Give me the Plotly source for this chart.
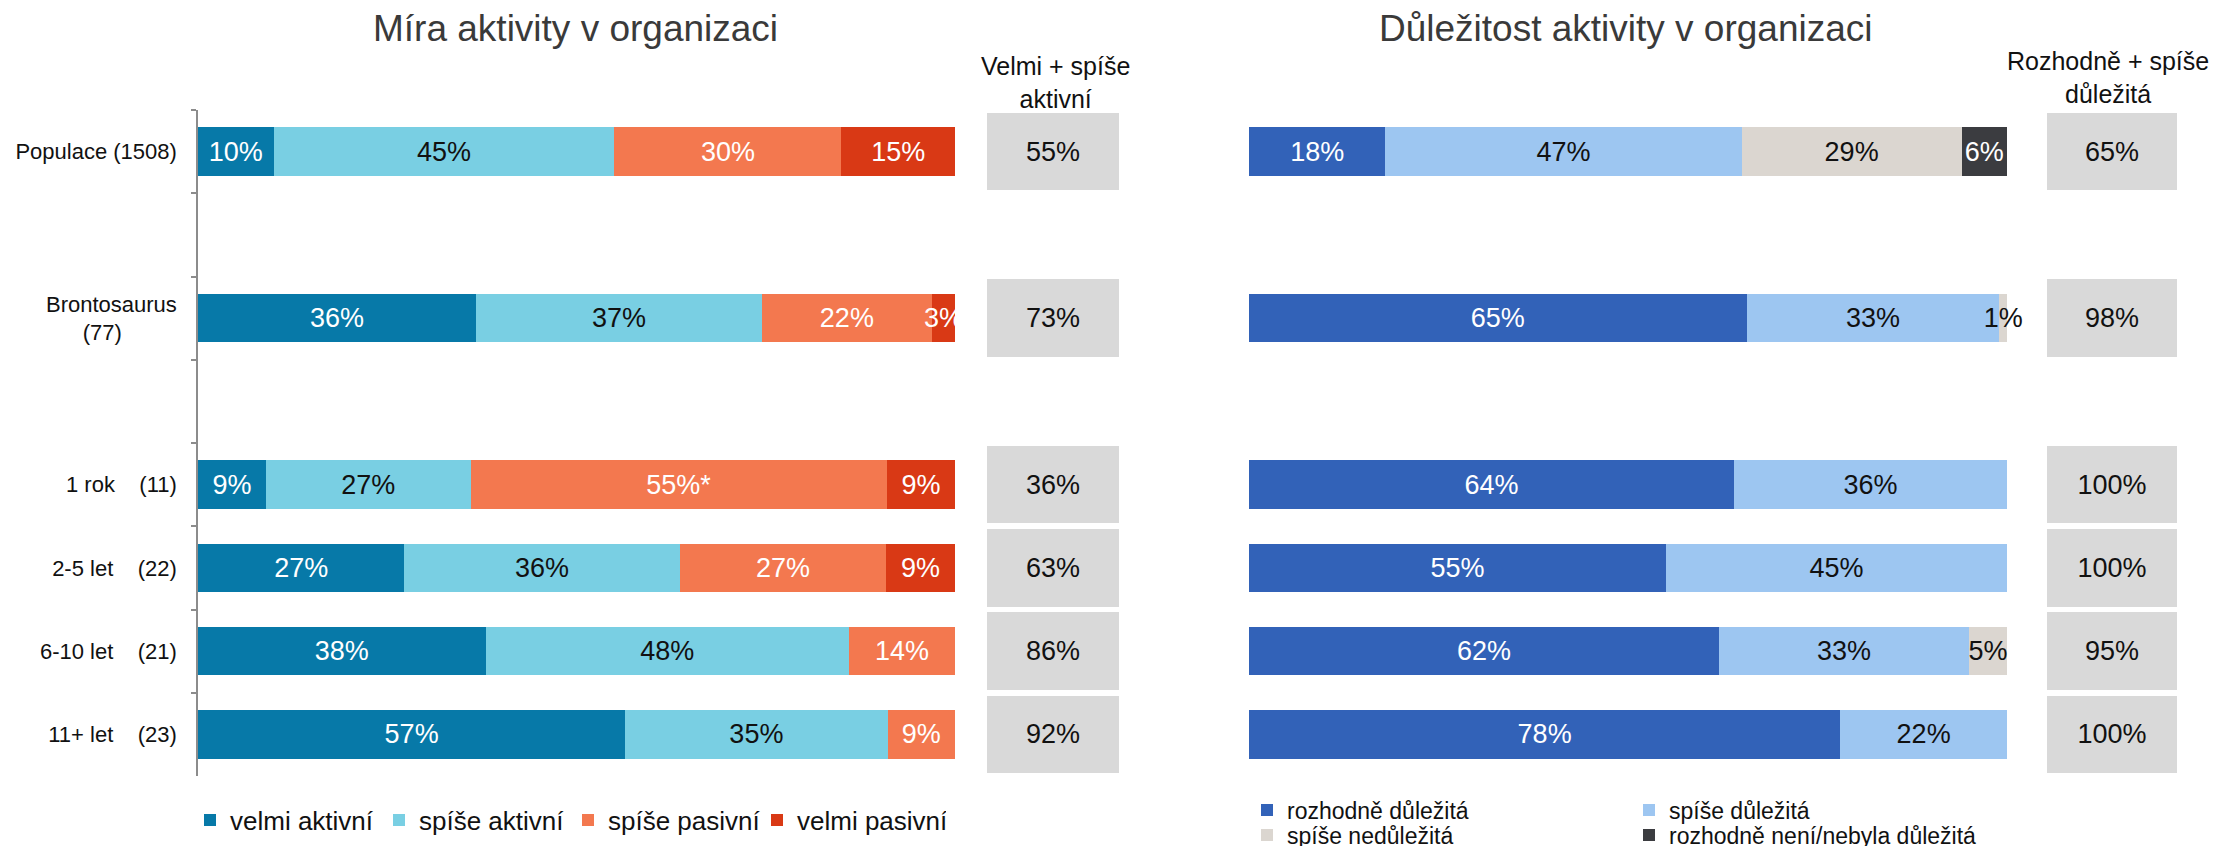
import plotly.graph_objects as go

NB = "\u00a0"
FONT = "Liberation Sans, Arial, sans-serif"

# ---- categories (top to bottom); blank ones are spacer rows ----
categories = [
    "Populace (1508)",
    "Brontosaurus<br>(77)" + NB * 9,
    "1 rok" + NB * 4 + "(11)",
    "2-5 let" + NB * 4 + "(22)",
    "6-10 let" + NB * 4 + "(21)",
    "11+ let" + NB * 4 + "(23)",
]
spacers = [NB, NB + NB]
category_order = [categories[0], spacers[0], categories[1], spacers[1]] + categories[2:]

# ---- Míra aktivity v organizaci ----
act_names = ["velmi aktivní", "spíše aktivní", "spíše pasivní", "velmi pasivní"]
act_velmi = [10, 36, 9, 27, 38, 57]
act_spise = [45, 37, 27, 36, 48, 35]
pas_spise = [30, 22, 55, 27, 14, 9]
pas_velmi = [15, 3, 9, 9, 0, 0]
pas_spise_notes = ["", "", "*", "", "", ""]
act_total = [55, 73, 36, 63, 86, 92]
act_colors = ["#0779a8", "#79cfe3", "#f3784f", "#d93915"]
act_text_colors = ["white", "#111111", "white", "white"]

# ---- Důležitost aktivity v organizaci ----
imp_names = ["rozhodně důležitá", "spíše důležitá", "spíše nedůležitá",
             "rozhodně není/nebyla důležitá"]
imp_rozhodne = [18, 65, 64, 55, 62, 78]
imp_spise = [47, 33, 36, 45, 33, 22]
unimp_spise = [29, 1, 0, 0, 5, 0]
unimp_rozhodne = [6, 0, 0, 0, 0, 0]
imp_total = [65, 98, 100, 100, 95, 100]
imp_colors = ["#3262b8", "#9dc6f1", "#dbd6d0", "#3b3c40"]
imp_text_colors = ["white", "#111111", "#111111", "white"]

W, H = 2221, 846
OFF = 8          # page body margin of the html page
TXT = 27


def dx(page_x):
    return (page_x - OFF) / W


def lab(vals, notes=None):
    out = []
    for i, v in enumerate(vals):
        if v == 0:
            out.append("")
        else:
            out.append(f"{v}%" + (notes[i] if notes else ""))
    return out


fig = go.Figure()

act_series = [act_velmi, act_spise, pas_spise, pas_velmi]
for k, vals in enumerate(act_series):
    fig.add_trace(go.Bar(
        y=categories, x=vals, orientation="h", name=act_names[k],
        marker=dict(color=act_colors[k], line=dict(width=0)),
        text=lab(vals, pas_spise_notes if k == 2 else None),
        textposition="inside", insidetextanchor="middle", textangle=0,
        textfont=dict(size=TXT, color=act_text_colors[k], family=FONT),
        width=0.58, xaxis="x", yaxis="y", legend="legend",
        cliponaxis=True,
    ))

fig.add_trace(go.Bar(
    y=categories, x=act_total, orientation="h", showlegend=False,
    marker=dict(color="#d9d9d9", line=dict(width=0)),
    text=[f"{v}%" for v in act_total],
    textposition="inside", insidetextanchor="middle", textangle=0,
    textfont=dict(size=TXT, color="#111111", family=FONT),
    width=0.93, xaxis="x2", yaxis="y",
))

imp_series = [imp_rozhodne, imp_spise, unimp_spise, unimp_rozhodne]
imp_legends = ["legend2", "legend2", "legend3", "legend3"]
for k, vals in enumerate(imp_series):
    fig.add_trace(go.Bar(
        y=categories, x=vals, orientation="h", name=imp_names[k],
        marker=dict(color=imp_colors[k], line=dict(width=0)),
        text=lab(vals),
        textposition="inside", insidetextanchor="middle", textangle=0,
        textfont=dict(size=TXT, color=imp_text_colors[k], family=FONT),
        width=0.58, xaxis="x3", yaxis="y", legend=imp_legends[k],
        cliponaxis=False,
    ))

fig.add_trace(go.Bar(
    y=categories, x=imp_total, orientation="h", showlegend=False,
    marker=dict(color="#d9d9d9", line=dict(width=0)),
    text=[f"{v}%" for v in imp_total],
    textposition="inside", insidetextanchor="middle", textangle=0,
    textfont=dict(size=TXT, color="#111111", family=FONT),
    width=0.93, xaxis="x4", yaxis="y",
))

hidden_x = dict(range=[0, 100], visible=False, fixedrange=True, automargin=False)
PT = 110 - OFF
PB = H - (776 - OFF)
plot_h = H - PT - PB


def py(page_y):
    return (H - PB - (page_y - OFF)) / plot_h


legend_common = dict(orientation="h", xanchor="left", yanchor="middle",
                     traceorder="normal", bgcolor="rgba(0,0,0,0)", borderwidth=0)

fig.update_layout(
    width=W, height=H,
    margin=dict(l=0, r=0, t=PT, b=PB, autoexpand=False),
    paper_bgcolor="white", plot_bgcolor="white",
    font=dict(family=FONT, color="#111111"),
    barmode="stack", barnorm="percent",
    uniformtext=dict(mode="show", minsize=TXT),
    xaxis=dict(domain=[dx(198), dx(955)], anchor="y", **hidden_x),
    xaxis2=dict(domain=[dx(987), dx(1119)], anchor="y", **hidden_x),
    xaxis3=dict(domain=[dx(1249), dx(2007)], anchor="y", **hidden_x),
    xaxis4=dict(domain=[dx(2047), dx(2177)], anchor="y", **hidden_x),
    yaxis=dict(
        type="category", categoryorder="array", categoryarray=category_order,
        range=[len(category_order) - 0.5, -0.5], anchor="x",
        showline=True, linecolor="#8c8c8c", linewidth=1.5,
        ticks="outside", tickson="boundaries", ticklen=5, tickcolor="#8c8c8c",
        tickwidth=1.5, showgrid=False, zeroline=False, automargin=False,
        tickfont=dict(size=22, color="#111111", family=FONT),
        ticklabelstandoff=15, fixedrange=True,
    ),
    legend=dict(x=dx(190), y=py(820), font=dict(size=26), entrywidth=144,
                **legend_common),
    legend2=dict(x=dx(1247), y=py(810), font=dict(size=23), entrywidth=337,
                 **legend_common),
    legend3=dict(x=dx(1247), y=py(835), font=dict(size=23), entrywidth=337,
                 **legend_common),
)

annotations = [
    dict(text="Míra aktivity v organizaci", x=dx(575), y=py(29),
         font=dict(size=37, color="#3a3a3a")),
    dict(text="Důležitost aktivity v organizaci", x=dx(1626), y=py(29),
         font=dict(size=37, color="#3a3a3a")),
    dict(text="Velmi + spíše<br>aktivní", x=dx(1055), y=py(83),
         font=dict(size=25, color="#111111")),
    dict(text="Rozhodně + spíše<br>důležitá", x=dx(2108), y=py(78),
         font=dict(size=25, color="#111111")),
]
for a in annotations:
    a.update(xref="paper", yref="paper", showarrow=False,
             xanchor="center", yanchor="middle", align="center")
fig.update_layout(annotations=annotations)

fig.write_html("out.html")
